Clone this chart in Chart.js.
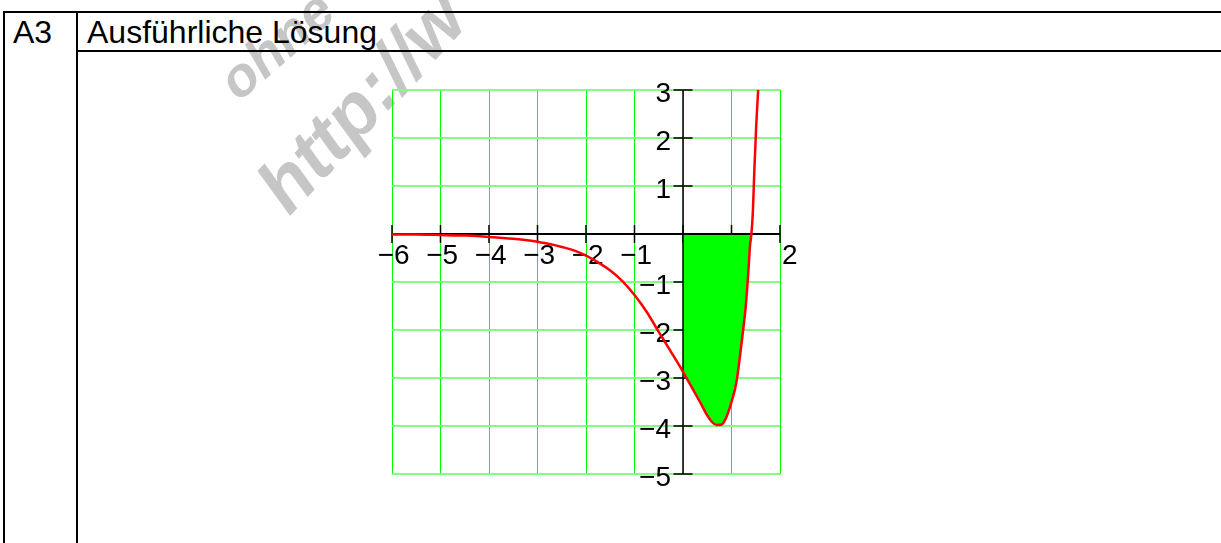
<!DOCTYPE html>
<html>
<head>
<meta charset="utf-8">
<script src="https://cdn.jsdelivr.net/npm/chart.js@4.4.0/dist/chart.umd.min.js"></script>
<style>
  html, body { margin: 0; padding: 0; background: #fff; width: 1221px; height: 543px; overflow: hidden; }
  .ln { position: absolute; background: #000; }
  .cell { position: absolute; font-family: "Liberation Sans", Arial, sans-serif; font-size: 32px; line-height: 32px; color: #000; white-space: nowrap; }
  .wm { position: absolute; font-family: "Liberation Sans", Arial, sans-serif; font-weight: bold; font-style: italic; color: #c6c6c6; white-space: nowrap; line-height: 1; transform-origin: 0 100%; }
  #plot { position: absolute; left: 0; top: 0; }
</style>
</head>
<body>
<div class="wm" style="left:245px; top:54px; font-size:55px; transform: rotate(-41deg);">ohne</div>
<div class="wm" style="left:298px; top:150px; font-size:75px; transform: rotate(-47deg);">http://w</div>

<div class="ln" style="left:3px; top:11px; width:1218px; height:2px;"></div>
<div class="ln" style="left:3px; top:11px; width:2px; height:532px;"></div>
<div class="ln" style="left:76px; top:11px; width:2px; height:532px;"></div>
<div class="ln" style="left:76px; top:50px; width:1145px; height:2px;"></div>
<div class="cell" style="left:13px; top:15.5px;">A3</div>
<div class="cell" style="left:87px; top:15.5px;">Ausführliche Lösung</div>

<canvas id="plot" width="1221" height="543"></canvas>

<script>
// Axis ticks and their labels (empty where no label is printed)
const xTicks = [-6, -5, -4, -3, -2, -1, 0, 1, 2];
const xTickLabels = ['−6', '−5', '−4', '−3', '−2', '−1', '', '', '2'];
const yTicks = [3, 2, 1, 0, -1, -2, -3, -4, -5];
const yTickLabels = ['3', '2', '1', '', '−1', '−2', '−3', '−4', '−5'];

// Sampled graph of f
const curveX = [-6, -5.5, -5, -4.6, -4.5, -4, -3.5, -3, -2.75, -2.5, -2.25, -2, -1.75, -1.5, -1.25, -1,
                -0.75, -0.5, -0.25, 0, 0.15, 0.35, 0.5, 0.6, 0.7, 0.8, 0.9, 1.0, 1.1, 1.18, 1.24, 1.29,
                1.35, 1.38, 1.41, 1.44, 1.47, 1.51, 1.55];
const curveY = [-0.01, -0.01, -0.02, -0.03, -0.03, -0.06, -0.1, -0.16, -0.21, -0.27, -0.34, -0.45, -0.59, -0.76, -0.98, -1.27,
                -1.62, -2.04, -2.45, -2.87, -3.14, -3.5, -3.78, -3.92, -3.98, -3.97, -3.8, -3.5, -3.1, -2.5, -2.0, -1.55,
                -0.75, -0.26, 0, 0.45, 1.3, 2.27, 3.0];

// Area between the graph and the x-axis from 0 to the zero of f
const areaFrom = 0;
const areaTo = 1.41;

const curvePts = curveX.map((x, i) => ({ x, y: curveY[i] }));
const areaPts = curvePts.filter(p => p.x >= areaFrom && p.x <= areaTo);

const FONT = '28px "Liberation Sans", Arial, sans-serif';

// Axes through the origin: crossing tick marks, labels and axis lines
const crossAxes = {
  id: 'crossAxes',
  beforeDatasetsDraw(chart) {
    const { ctx, scales: { x, y } } = chart;
    const x0 = x.getPixelForValue(0);
    const y0 = y.getPixelForValue(0);
    ctx.save();
    ctx.strokeStyle = '#000';
    ctx.lineWidth = 1.5;
    ctx.beginPath();
    xTicks.forEach(v => {
      const px = x.getPixelForValue(v);
      ctx.moveTo(px, y0 - 9);
      ctx.lineTo(px, y0 + 9);
    });
    yTicks.forEach(v => {
      const py = y.getPixelForValue(v);
      ctx.moveTo(x0 - 9.5, py);
      ctx.lineTo(x0 + 9.5, py);
    });
    ctx.stroke();

    ctx.fillStyle = '#000';
    ctx.font = FONT;
    ctx.textBaseline = 'alphabetic';
    const minusW = ctx.measureText('−').width;
    ctx.textAlign = 'left';
    xTicks.forEach((v, i) => {
      const t = xTickLabels[i];
      if (!t) return;
      const px = x.getPixelForValue(v);
      const start = t.startsWith('−') ? px + 2 - minusW : px + 2;
      ctx.fillText(t, start, y0 + 30);
    });
    ctx.textAlign = 'right';
    yTicks.forEach((v, i) => {
      const t = yTickLabels[i];
      if (!t) return;
      ctx.fillText(t, x0 - 12, y.getPixelForValue(v) + 11.5);
    });
    ctx.restore();
  },
  beforeDatasetDraw(chart, args) {
    if (args.index !== 0) return;
    const { ctx, scales: { x, y } } = chart;
    const x0 = x.getPixelForValue(0);
    const y0 = y.getPixelForValue(0);
    ctx.save();
    ctx.strokeStyle = '#000';
    ctx.lineWidth = 2;
    ctx.beginPath();
    ctx.moveTo(x.getPixelForValue(x.min), y0);
    ctx.lineTo(x.getPixelForValue(x.max), y0);
    ctx.stroke();
    ctx.lineWidth = 1.5;
    ctx.beginPath();
    ctx.moveTo(x0, y.getPixelForValue(y.max));
    ctx.lineTo(x0, y.getPixelForValue(y.min));
    ctx.stroke();
    ctx.restore();
  }
};

new Chart(document.getElementById('plot'), {
  type: 'line',
  data: {
    datasets: [
      {
        data: curvePts,
        borderColor: '#ff0000',
        borderWidth: 2.5,
        pointRadius: 0,
        fill: false,
        cubicInterpolationMode: 'monotone',
        order: 1
      },
      {
        data: areaPts,
        borderWidth: 0,
        borderColor: 'rgba(0,0,0,0)',
        backgroundColor: '#00ff00',
        pointRadius: 0,
        fill: 'origin',
        cubicInterpolationMode: 'monotone',
        order: 2
      }
    ]
  },
  options: {
    responsive: false,
    animation: false,
    devicePixelRatio: 1,
    layout: { padding: { left: 392, right: 441, top: 90, bottom: 69 } },
    plugins: { legend: { display: false }, tooltip: { enabled: false } },
    scales: {
      x: {
        type: 'linear',
        min: -6, max: 2,
        afterBuildTicks: s => { s.ticks = xTicks.map(v => ({ value: v })); },
        ticks: { display: false },
        border: { display: false },
        grid: { color: '#00ff00', lineWidth: 1, drawTicks: false }
      },
      y: {
        type: 'linear',
        min: -5, max: 3,
        afterBuildTicks: s => { s.ticks = yTicks.map(v => ({ value: v })); },
        ticks: { display: false },
        border: { display: false },
        grid: { color: '#80ff80', lineWidth: 2, drawTicks: false }
      }
    }
  },
  plugins: [crossAxes]
});
</script>
</body>
</html>
